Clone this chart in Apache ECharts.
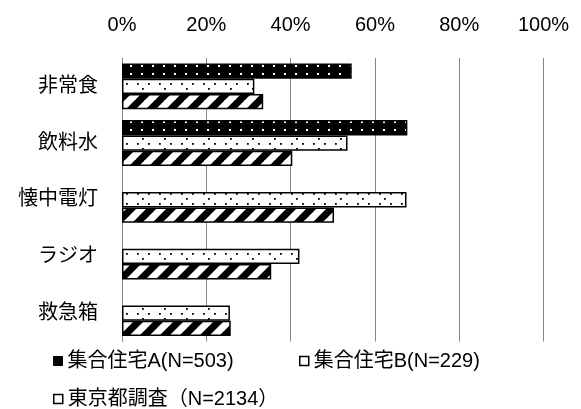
<!DOCTYPE html>
<html>
<head>
<meta charset="utf-8">
<script src="https://cdn.jsdelivr.net/npm/echarts@6/dist/echarts.min.js"></script>
<style>
  html, body { margin: 0; padding: 0; background: #fff; }
  #chart { width: 581px; height: 409px; }
</style>
</head>
<body>
<div id="chart"></div>
<script>
// ---- data ----
const categories = ['非常食', '飲料水', '懐中電灯', 'ラジオ', '救急箱'];
const seriesNames = ['集合住宅A(N=503)', '集合住宅B(N=229)', '東京都調査（N=2134）'];
const valuesA = [54.5, 67.7, 0, 0, 0];
const valuesB = [31.4, 53.5, 67.5, 42.1, 25.6];
const valuesTokyo = [33.5, 40.4, 50.3, 35.4, 25.8];
const xTicks = [0, 20, 40, 60, 80, 100];

// ---- fill patterns ----
function makeCanvas(w, h) {
  const c = document.createElement('canvas');
  c.width = w; c.height = h;
  return c;
}
function patternA() {
  const c = makeCanvas(11, 8);
  const g = c.getContext('2d');
  g.fillStyle = '#000'; g.fillRect(0, 0, 11, 8);
  g.fillStyle = '#fff';
  g.fillRect(9, 1, 2, 2);
  return c;
}
function patternB() {
  const c = makeCanvas(22, 10);
  const g = c.getContext('2d');
  g.fillStyle = '#fff'; g.fillRect(0, 0, 22, 10);
  g.fillStyle = '#000';
  g.fillRect(5, 3, 1.8, 1.8);
  g.fillRect(16, 3, 1.8, 1.8);
  g.fillRect(10, 8, 1.8, 1.8);
  return c;
}
function patternStripes() {
  const s = 20;
  const c = makeCanvas(s, s);
  const g = c.getContext('2d');
  g.fillStyle = '#fff'; g.fillRect(0, 0, s, s);
  g.strokeStyle = '#000';
  g.lineWidth = s / 2 / Math.SQRT2;
  g.beginPath();
  for (let k = -1; k <= 1; k++) {
    g.moveTo(k * s - 2, s + 2);
    g.lineTo(k * s + s + 2, -2);
  }
  g.stroke();
  return c;
}
const fills = [
  { image: patternA(), repeat: 'repeat' },
  { image: patternB(), repeat: 'repeat' },
  { image: patternStripes(), repeat: 'repeat' }
];
const allValues = [valuesA, valuesB, valuesTokyo];

const FONT = "'Liberation Sans', 'Noto Sans CJK JP', Arial, sans-serif";

const chart = echarts.init(document.getElementById('chart'), null, { renderer: 'canvas' });

const series = seriesNames.map((name, i) => ({
  name: name,
  type: 'bar',
  data: allValues[i].map(v => (v === 0 ? '-' : v)),
  barGap: '0%',
  barCategoryGap: '19%',
  itemStyle: { color: fills[i], borderColor: '#000', borderWidth: 1.5 },
  emphasis: { disabled: true },
  animation: false
}));

const legendIconStyles = [
  { color: '#000', borderColor: '#000', borderWidth: 1 },
  { color: '#fff', borderColor: '#000', borderWidth: 1.5 },
  { color: '#fff', borderColor: '#000', borderWidth: 1.5 }
];

function legendAt(idx, left, top) {
  return {
    data: [{ name: seriesNames[idx], itemStyle: legendIconStyles[idx] }],
    left: left, top: top,
    orient: 'horizontal',
    itemWidth: 9, itemHeight: 9,
    icon: 'rect',
    padding: 0,
    textStyle: { fontSize: 20, fontFamily: FONT, color: '#000' },
    selectedMode: false
  };
}

chart.setOption({
  animation: false,
  backgroundColor: '#fff',
  grid: { left: 122, right: 37.5, top: 58, bottom: 409 - 341.5, containLabel: false },
  xAxis: {
    type: 'value',
    position: 'top',
    min: xTicks[0], max: xTicks[xTicks.length - 1], interval: 20,
    axisLine: { show: false },
    axisTick: { show: false },
    axisLabel: {
      formatter: '{value}%', fontSize: 20, fontFamily: FONT, color: '#000', margin: 23
    },
    splitLine: { show: true, lineStyle: { color: '#868686', width: 1 } }
  },
  yAxis: {
    type: 'category',
    data: categories,
    inverse: true,
    axisLine: { show: true, lineStyle: { color: '#868686', width: 1 } },
    axisTick: { show: false },
    axisLabel: { fontSize: 20, fontFamily: FONT, color: '#000', margin: 24 }
  },
  legend: [
    legendAt(0, 53, 351),
    legendAt(1, 299, 351),
    legendAt(2, 53, 389)
  ],
  series: series
});
</script>
</body>
</html>
